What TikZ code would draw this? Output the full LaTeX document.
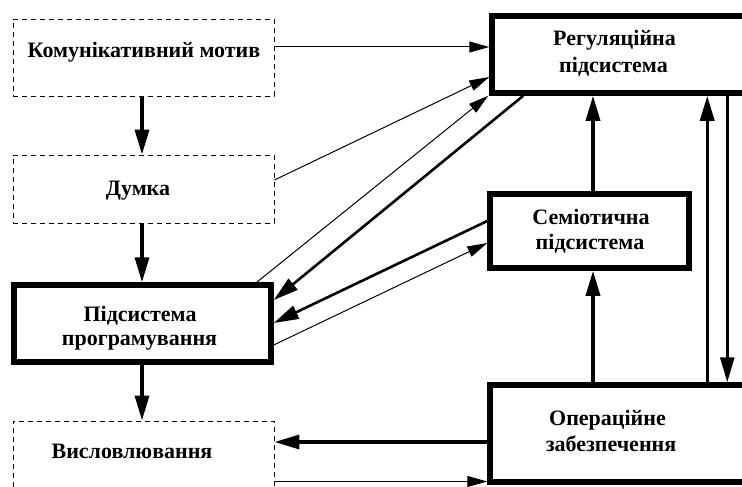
\documentclass[tikz,border=0pt]{standalone}
\usepackage{fontspec}
\setmainfont{Liberation Serif}
\usetikzlibrary{arrows.meta}
\begin{document}
\begin{tikzpicture}[x=1pt,y=-1pt,
  dbox/.style={draw, rectangle, inner sep=0pt, line width=0.9pt, dash pattern=on 5pt off 4pt},
  tbox/.style={draw, rectangle, inner sep=0pt, line width=5.5pt},
  lbl/.style={font=\bfseries\fontsize{22}{26}\selectfont, inner sep=0pt, anchor=base},
  thinarr/.style={line width=1pt, -{Triangle[length=20pt,width=11pt]}},
  thickarr/.style={line width=3.5pt, -{Triangle[length=25pt,width=14pt]}},
  midarr/.style={line width=2.6pt, -{Triangle[length=25pt,width=14pt]}}
]
\useasboundingbox (0,0) rectangle (742,487);
\fill[white] (0,0) rectangle (742,487);

% boxes
\node[dbox, minimum width=261pt, minimum height=77pt] (b1) at (143.5,57.5) {};
\node[dbox, minimum width=261pt, minimum height=68pt] (b2) at (143.5,189) {};
\node[tbox, minimum width=257pt, minimum height=77pt] (b3) at (142.5,323.5) {};
\node[dbox, minimum width=261pt, minimum height=74pt] (b4) at (143.5,458) {};
\node[tbox, minimum width=268pt, minimum height=77pt] (reg) at (626,54.5) {};
\node[tbox, minimum width=199pt, minimum height=74pt] (sem) at (589.5,231) {};
\node[tbox, minimum width=270pt, minimum height=97pt] (op) at (625,433.5) {};

% texts
\node[lbl] (t1) at (144,58) {Комунікативний мотив};
\node[lbl] (t2) at (138,195) {Думка};
\node[lbl] (t3a) at (140,321) {Підсистема};
\node[lbl] (t3b) at (139.5,345) {програмування};
\node[lbl] (t4) at (132,458) {Висловлювання};
\node[lbl] (rega) at (614.5,45.5) {Регуляційна};
\node[lbl] (regb) at (613.5,72.5) {підсистема};
\node[lbl] (sema) at (591,224) {Семіотична};
\node[lbl] (semb) at (590,249) {підсистема};
\node[lbl] (opa) at (607.5,425) {Операційне};
\node[lbl] (opb) at (611,451) {забезпечення};

% helper coordinates
\coordinate (s1) at ([yshift=10.5pt]b1.east);
\coordinate (e1) at (s1 -| reg.west);
\coordinate (uA) at ([xshift=220pt]op.north west);
\coordinate (uB) at (uA |- reg.south);
\coordinate (dA) at ([xshift=238pt]reg.south west);
\coordinate (dB) at (dA |- op.north);
\coordinate (oA) at ([yshift=-8.5pt]op.west);
\coordinate (oB) at (oA -| b4.east);
\coordinate (pA) at ([yshift=-23.5pt]b4.east);
\coordinate (pB) at (pA -| op.west);
\coordinate (sn) at ([xshift=3.5pt]sem.north);
\coordinate (rn) at (sn |- reg.south);
\coordinate (ss) at ([xshift=3.5pt]sem.south);
\coordinate (on) at (ss |- op.north);

% vertical chain
\draw[thickarr] ([xshift=-1.5pt]b1.south) -- ([xshift=-1.5pt]b2.north);
\draw[thickarr] ([xshift=-1.5pt]b2.south) -- ([xshift=-0.5pt]b3.north);
\draw[thickarr] ([xshift=-0.5pt]b3.south) -- ([xshift=-1.5pt]b4.north);

% to regulation
\draw[thinarr] (s1) -- (e1);
\draw[thinarr] ([yshift=9pt]b2.east) -- ([yshift=-22.5pt]reg.west);
\draw[thinarr] ([xshift=-17pt]b3.north east) -- ([xshift=-1pt]reg.south west);
\draw[midarr] ([xshift=34pt]reg.south west) -- ([yshift=23.5pt]b3.east);

% semiotic
\draw[midarr] ([yshift=10pt]sem.west) -- ([yshift=0.5pt]b3.east);
\draw[thinarr] ([yshift=-21.5pt]b3.east) -- ([yshift=-12pt]sem.west);
\draw[thickarr] (sn) -- (rn);
\draw[thickarr] (on) -- (ss);

% right verticals
\draw[thickarr] (uA) -- (uB);
\draw[midarr] (dA) -- (dB);

% operational <-> utterance
\draw[thickarr] (oA) -- (oB);
\draw[thinarr] (pA) -- (pB);
\end{tikzpicture}
\end{document}
